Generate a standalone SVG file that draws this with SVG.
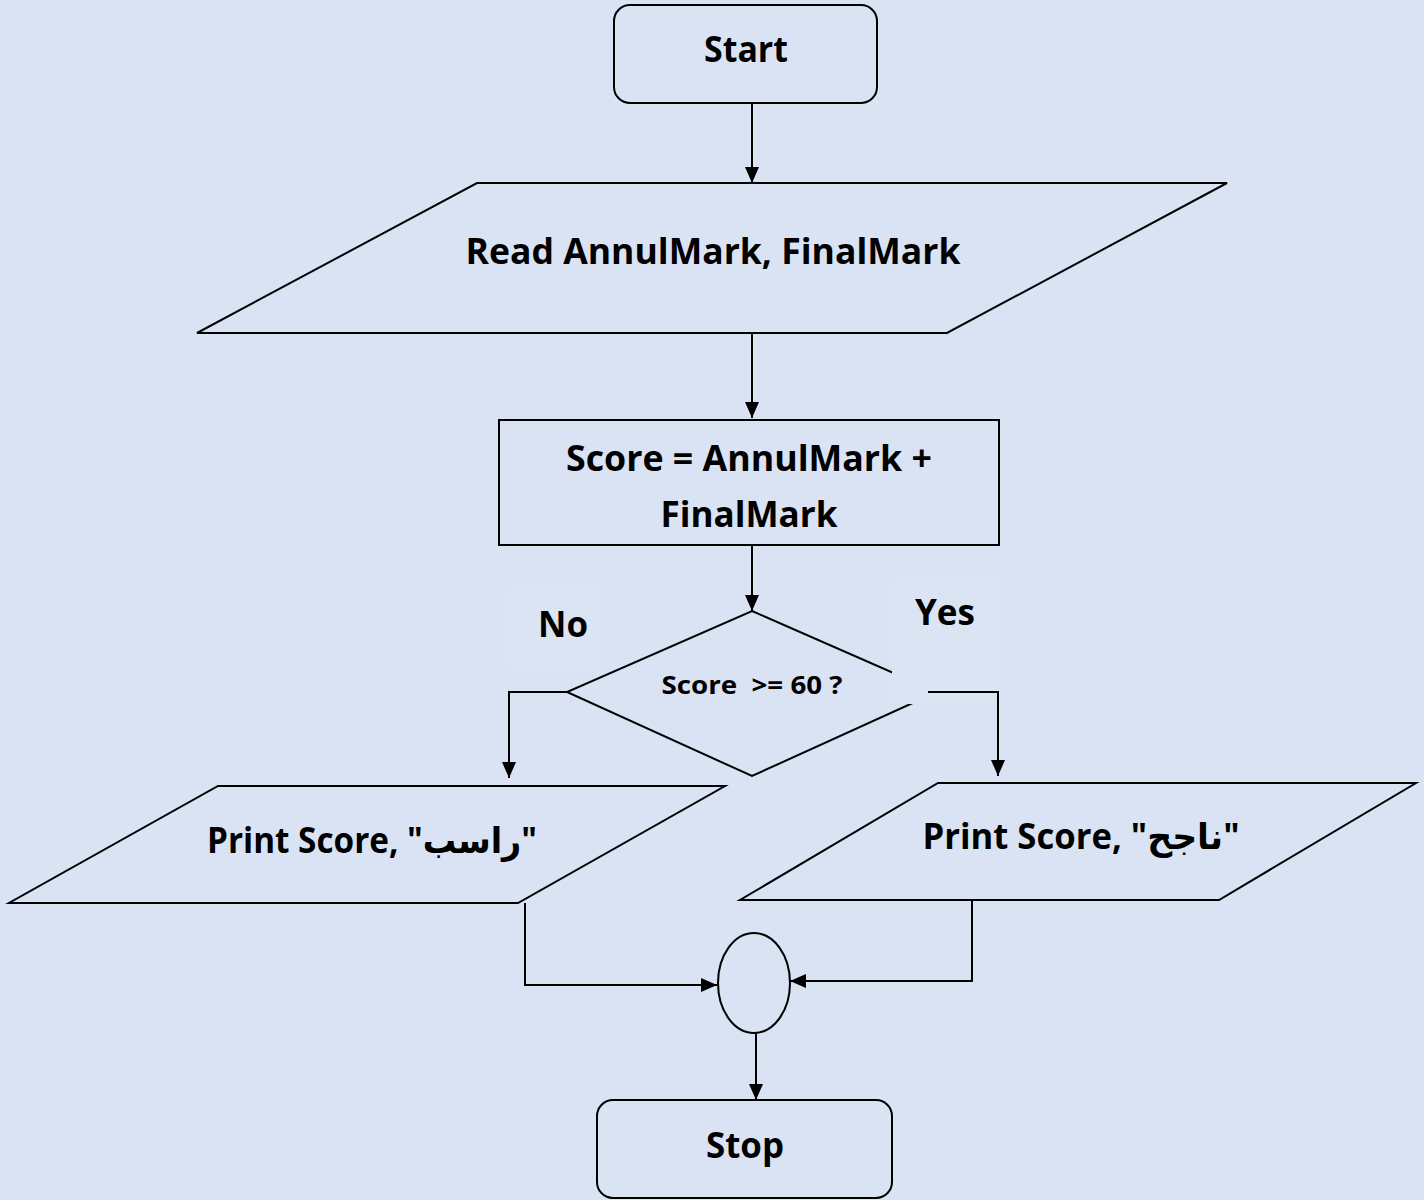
<svg xmlns="http://www.w3.org/2000/svg" width="1424" height="1200" viewBox="0 0 1424 1200">
<style>
.s{fill:none;stroke:#000;stroke-width:2}
.n{fill:#dae3f3;stroke:#000;stroke-width:2}
.t{font-family:"Open Sans","DejaVu Sans",sans-serif;font-weight:bold;fill:#000;text-anchor:middle}
.lb{fill:#dbe4f3;stroke:none}
</style>
<defs>
<marker id="ah" viewBox="0 0 16 14" refX="16" refY="7" markerWidth="16" markerHeight="14" markerUnits="userSpaceOnUse" orient="auto">
<path d="M0,0 L16,7 L0,14 Z" fill="#000"/>
</marker>
</defs>
<rect width="1424" height="1200" fill="#dae3f3"/>
<g id="start"><rect class="n" x="614" y="5" width="263" height="98" rx="16"/><text class="t" x="746" y="62" font-size="36" textLength="84" lengthAdjust="spacingAndGlyphs">Start</text></g>
<g id="read"><polygon class="n" points="477,183 1227,183 947,333 197,333"/><text class="t" x="713" y="264" font-size="36" textLength="495" lengthAdjust="spacingAndGlyphs">Read AnnulMark, FinalMark</text></g>
<g id="calc"><rect class="n" x="499" y="420" width="500" height="125"/><text class="t" x="749" y="471" font-size="36" textLength="366" lengthAdjust="spacingAndGlyphs">Score = AnnulMark +</text><text class="t" x="749" y="527" font-size="36" textLength="177" lengthAdjust="spacingAndGlyphs">FinalMark</text></g>
<g id="decision"><polygon class="n" points="752,611 937,692 752,776 567,692"/><text class="t" x="752" y="694" font-size="25" textLength="181" lengthAdjust="spacingAndGlyphs" style="white-space:pre">Score  &gt;= 60 ?</text></g>
<g id="label-no"><rect class="lb" x="508" y="585" width="92" height="83"/><text class="t" x="563" y="637" font-size="36" textLength="50" lengthAdjust="spacingAndGlyphs">No</text></g>
<g id="label-yes"><rect class="lb" x="892" y="578" width="106" height="126"/><text class="t" x="945" y="625" font-size="36" textLength="60" lengthAdjust="spacingAndGlyphs">Yes</text></g>
<g id="print-fail"><polygon class="n" points="218,786 725,786 518,903 9,903"/><text class="t" x="372" y="853" font-size="36" textLength="330" lengthAdjust="spacingAndGlyphs">Print Score, "راسب"</text></g>
<g id="print-pass"><polygon class="n" points="938,783 1416,783 1219,900 740,900"/><text class="t" x="1081" y="849" font-size="36" textLength="317" lengthAdjust="spacingAndGlyphs">Print Score, "ناجح"</text></g>
<g id="connector"><ellipse class="n" cx="754" cy="983" rx="36" ry="50"/></g>
<g id="stop"><rect class="n" x="597" y="1100" width="295" height="98" rx="16"/><text class="t" x="745" y="1158" font-size="36" textLength="78" lengthAdjust="spacingAndGlyphs">Stop</text></g>
<g id="connectors" class="s">
<path class="s" d="M752,103 V183" marker-end="url(#ah)"/>
<path class="s" d="M752,333 V418" marker-end="url(#ah)"/>
<path class="s" d="M752,545 V611" marker-end="url(#ah)"/>
<path class="s" d="M567,692 H509 V778" marker-end="url(#ah)"/>
<path class="s" d="M928,692 H998 V776" marker-end="url(#ah)"/>
<path class="s" d="M525,903 V985 H717" marker-end="url(#ah)"/>
<path class="s" d="M972,900 V981 H790" marker-end="url(#ah)"/>
<path class="s" d="M756,1033 V1100" marker-end="url(#ah)"/>
</g>
</svg>
